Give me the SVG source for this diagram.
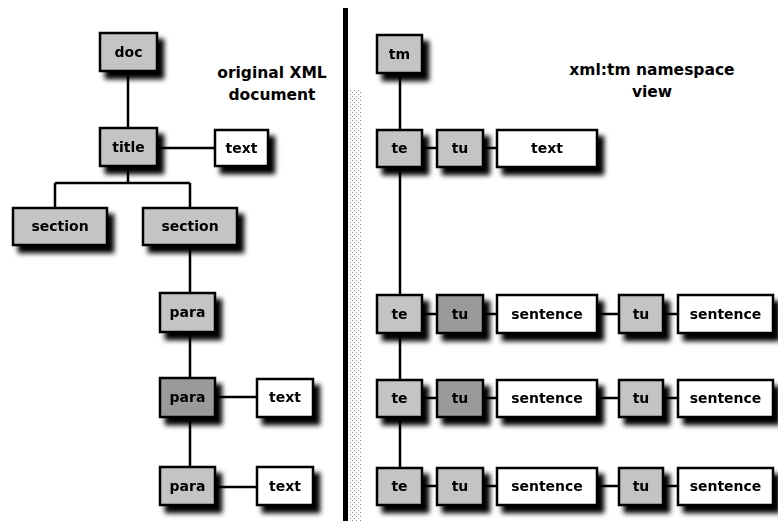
<svg xmlns="http://www.w3.org/2000/svg" width="778" height="521" viewBox="0 0 778 521">
<defs>
<filter id="sh" x="-20%" y="-20%" width="160%" height="170%">
<feGaussianBlur in="SourceAlpha" stdDeviation="2.5"/>
<feOffset dx="6" dy="7" result="b"/>
<feComponentTransfer><feFuncA type="linear" slope="1"/></feComponentTransfer>
<feMerge><feMergeNode/><feMergeNode in="SourceGraphic"/></feMerge>
</filter>
<pattern id="dots" width="4" height="4" patternUnits="userSpaceOnUse">
<rect width="4" height="4" fill="#fff"/>
<rect width="1" height="1" fill="#888"/>
<rect x="2" y="2" width="1" height="1" fill="#888"/>
</pattern>
</defs>
<style>
.tag{fill:#c4c4c4;stroke:#000;stroke-width:2.5}
.dark{fill:#9a9a9a}
.txt{fill:#fff;stroke:#000;stroke-width:2.5}
.lbl{font-family:"DejaVu Sans",sans-serif;font-weight:bold;font-size:14px;text-anchor:middle;fill:#000}
.head{font-family:"DejaVu Sans",sans-serif;font-weight:bold;font-size:15.5px;text-anchor:middle;fill:#000}
.c{stroke:#000;stroke-width:2.5;fill:none}
</style>
<rect width="778" height="521" fill="#fff"/>
<g id="divider">
<rect x="350" y="90" width="12" height="431" fill="url(#dots)"/>
<rect x="343" y="8" width="5" height="513" fill="#000"/>
</g>
<g id="headings">
<text class="head" x="272" y="78">original XML</text>
<text class="head" x="272" y="100">document</text>
<text class="head" x="652" y="75">xml:tm namespace</text>
<text class="head" x="652" y="97">view</text>
</g>
<g id="connectors">
<path class="c" d="M128 71V128M157 148H215M128 166V183M55 183H190M55 183V208M190 183V208M190 245V293M190 332V378M190 417V467M215 397H257M215 487H257"/>
<path class="c" d="M400 73V468M422 148H437M483 148H497"/>
<path class="c" d="M422 314H437M483 314H497M597 314H619M663 314H678"/>
<path class="c" d="M422 398H437M483 398H497M597 398H619M663 398H678"/>
<path class="c" d="M422 486H437M483 486H497M597 486H619M663 486H678"/>
</g>
<g id="doc" filter="url(#sh)"><rect class="tag" x="100" y="33" width="57" height="38"/><text class="lbl" x="128.5" y="57">doc</text></g>
<g id="title" filter="url(#sh)"><rect class="tag" x="100" y="128" width="57" height="38"/><text class="lbl" x="128.5" y="152">title</text></g>
<g id="title-text" filter="url(#sh)"><rect class="txt" x="215" y="130" width="53" height="36"/><text class="lbl" x="241.5" y="153">text</text></g>
<g id="section1" filter="url(#sh)"><rect class="tag" x="13" y="208" width="94" height="37"/><text class="lbl" x="60" y="231">section</text></g>
<g id="section2" filter="url(#sh)"><rect class="tag" x="143" y="208" width="94" height="37"/><text class="lbl" x="190" y="231">section</text></g>
<g id="para1" filter="url(#sh)"><rect class="tag" x="160" y="293" width="55" height="39"/><text class="lbl" x="187.5" y="317">para</text></g>
<g id="para2" filter="url(#sh)"><rect class="tag dark" x="160" y="378" width="55" height="39"/><text class="lbl" x="187.5" y="402">para</text></g>
<g id="para2-text" filter="url(#sh)"><rect class="txt" x="257" y="379" width="56" height="38"/><text class="lbl" x="285" y="402">text</text></g>
<g id="para3" filter="url(#sh)"><rect class="tag" x="160" y="467" width="55" height="38"/><text class="lbl" x="187.5" y="491">para</text></g>
<g id="para3-text" filter="url(#sh)"><rect class="txt" x="257" y="467" width="56" height="38"/><text class="lbl" x="285" y="491">text</text></g>

<g id="tm" filter="url(#sh)"><rect class="tag" x="377" y="35" width="45" height="38"/><text class="lbl" x="399.5" y="59">tm</text></g>
<g id="te0" filter="url(#sh)"><rect class="tag" x="377" y="130" width="45" height="37"/><text class="lbl" x="399.5" y="153">te</text></g>
<g id="tu0" filter="url(#sh)"><rect class="tag" x="437" y="130" width="46" height="37"/><text class="lbl" x="460" y="153">tu</text></g>
<g id="text0" filter="url(#sh)"><rect class="txt" x="497" y="130" width="100" height="37"/><text class="lbl" x="547" y="153">text</text></g>

<g id="te1" filter="url(#sh)"><rect class="tag" x="377" y="295" width="45" height="38"/><text class="lbl" x="399.5" y="319">te</text></g>
<g id="tu1a" filter="url(#sh)"><rect class="tag dark" x="437" y="295" width="46" height="38"/><text class="lbl" x="460" y="319">tu</text></g>
<g id="sent1a" filter="url(#sh)"><rect class="txt" x="497" y="295" width="100" height="38"/><text class="lbl" x="547" y="319">sentence</text></g>
<g id="tu1b" filter="url(#sh)"><rect class="tag" x="619" y="295" width="44" height="38"/><text class="lbl" x="641" y="319">tu</text></g>
<g id="sent1b" filter="url(#sh)"><rect class="txt" x="678" y="295" width="95" height="38"/><text class="lbl" x="725.5" y="319">sentence</text></g>

<g id="te2" filter="url(#sh)"><rect class="tag" x="377" y="380" width="45" height="37"/><text class="lbl" x="399.5" y="403">te</text></g>
<g id="tu2a" filter="url(#sh)"><rect class="tag dark" x="437" y="380" width="46" height="37"/><text class="lbl" x="460" y="403">tu</text></g>
<g id="sent2a" filter="url(#sh)"><rect class="txt" x="497" y="380" width="100" height="37"/><text class="lbl" x="547" y="403">sentence</text></g>
<g id="tu2b" filter="url(#sh)"><rect class="tag" x="619" y="380" width="44" height="37"/><text class="lbl" x="641" y="403">tu</text></g>
<g id="sent2b" filter="url(#sh)"><rect class="txt" x="678" y="380" width="95" height="37"/><text class="lbl" x="725.5" y="403">sentence</text></g>

<g id="te3" filter="url(#sh)"><rect class="tag" x="377" y="468" width="45" height="37"/><text class="lbl" x="399.5" y="491">te</text></g>
<g id="tu3a" filter="url(#sh)"><rect class="tag" x="437" y="468" width="46" height="37"/><text class="lbl" x="460" y="491">tu</text></g>
<g id="sent3a" filter="url(#sh)"><rect class="txt" x="497" y="468" width="100" height="37"/><text class="lbl" x="547" y="491">sentence</text></g>
<g id="tu3b" filter="url(#sh)"><rect class="tag" x="619" y="468" width="44" height="37"/><text class="lbl" x="641" y="491">tu</text></g>
<g id="sent3b" filter="url(#sh)"><rect class="txt" x="678" y="468" width="95" height="37"/><text class="lbl" x="725.5" y="491">sentence</text></g>
</svg>
